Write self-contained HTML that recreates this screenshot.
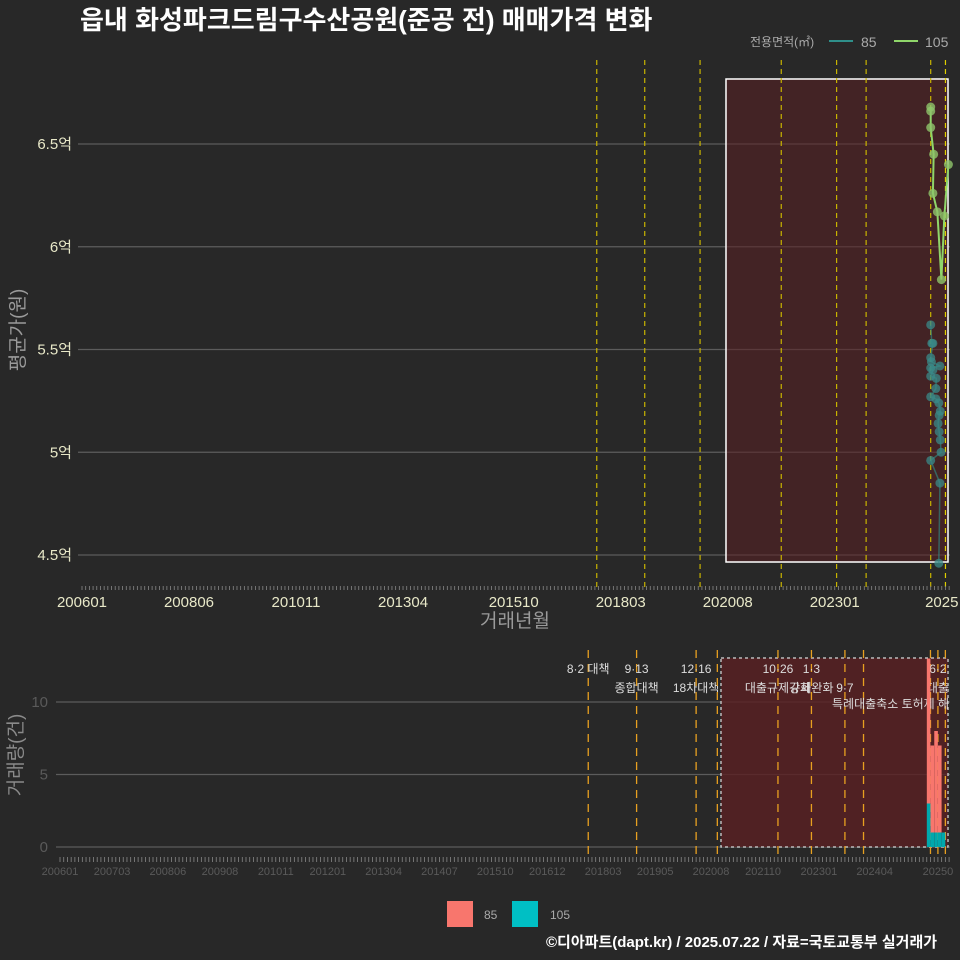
<!DOCTYPE html>
<html><head><meta charset="utf-8"><style>
body{margin:0;background:#282828;}
svg{display:block;font-family:"Liberation Sans","Noto Sans CJK KR",sans-serif;}
</style></head><body>
<svg id="c" width="960" height="960" xmlns="http://www.w3.org/2000/svg">
<rect width="960" height="960" fill="#282828"/>
<text x="80" y="29" font-size="26" font-weight="bold" fill="#ffffff">읍내 화성파크드림구수산공원(준공 전) 매매가격 변화</text>
<g>
<text x="750" y="46" font-size="12" fill="#aaaaaa">전용면적(㎡)</text>
<line x1="829" y1="41" x2="853" y2="41" stroke="#2f8f8a" stroke-width="2"/>
<text x="861" y="47" font-size="14" fill="#aaaaaa">85</text>
<line x1="894" y1="41" x2="918" y2="41" stroke="#8fd66a" stroke-width="2"/>
<text x="925" y="47" font-size="14" fill="#aaaaaa">105</text>
</g>
<g id="top"></g>
<g id="bot"></g>
<text x="546" y="947" font-size="15" font-weight="bold" fill="#ffffff">©디아파트(dapt.kr) / 2025.07.22 / 자료=국토교통부 실거래가</text>
<g>
<rect x="447" y="901" width="26" height="26" fill="#f8766d"/><text x="484" y="919" font-size="12" fill="#aaaaaa">85</text>
<rect x="512" y="901" width="26" height="26" fill="#00bfc4"/><text x="550" y="919" font-size="12" fill="#aaaaaa">105</text>
</g>
</svg>
<script>
const topTickLabels=["200601","200806","201011","201304","201510","201803","202008","202301","2025"];
const topTickMonths=[0,29,58,87,117,146,175,204,233];
const yTicks=[4.5,5,5.5,6,6.5];
const yTickLabels=["4.5억","5억","5.5억","6억","6.5억"];
const policyMonths=[139.5,152.5,167.5,189.5,204.5,212.5,230,234]; 
const s105Months=[230,230,230,230.8,230.6,231.8,232.9,233.7,234.8];
const s105Values=[6.68,6.66,6.58,6.45,6.26,6.17,5.84,6.15,6.40];
const s85Months=[230,230.3,230.6,230,230.2,230,230.6,230,231.5,232.5,231.4,232.2,230,232.6,232.3,232,232.3,232.6,232.8,230,232.5,232.2,231.4];
const s85Values=[5.62,5.53,5.53,5.46,5.44,5.41,5.40,5.37,5.36,5.42,5.26,5.24,5.27,5.20,5.18,5.14,5.10,5.06,5.00,4.96,4.85,4.46,5.31];
const botTickLabels=["200601","200703","200806","200908","201011","201201","201304","201407","201510","201612","201803","201905","202008","202110","202301","202404","20250"];
const botTickMonths=[0,14,29,43,58,72,87,102,117,131,146,160,175,189,204,219,236];
const volTicks=[0,5,10];
const volMonths=[233.5,234.5,235.5,236.5,237.5];
const vol85=[10,6,7,6,0];
const vol105=[3,1,1,1,1];
const bPolicyMonths=[142,155,171,176.7,193,202,211,216,234,236,238];
const bPolicyTop=["8·2 대책","9·13","12·16","","10·26","1·3","","","","6·2",""];
const bPolicyBot=["","종합대책","18차대책","","대출규제강화","규제완화","9·7","","","대출",""];
const NS="http://www.w3.org/2000/svg";
function mk(p,t,a,txt){const e=document.createElementNS(NS,t);for(const k in a)e.setAttribute(k,a[k]);if(txt!==undefined)e.textContent=txt;p.appendChild(e);return e;}
const T=document.getElementById('top'),B=document.getElementById('bot');
const xt=m=>82+m*3.69, yt=v=>555-(v-4.5)*205.5;
const xb=m=>60+m*3.72, yb=v=>847-v*14.5;
yTicks.forEach((v,i)=>{
 let l=mk(T,'line',{x1:78,x2:950,y1:yt(v),y2:yt(v),stroke:'#5c5c5c','stroke-width':1.2});
 
 
 let t=mk(T,'text',{x:72,y:yt(v)+5,'font-size':15,fill:'#e8e8c8','text-anchor':'end'},yTickLabels[i]);
 
 
});
let hr=mk(T,'rect',{x:726,y:79,width:222,height:483,fill:'#5a1f22','fill-opacity':0.55,stroke:'#ffffff','stroke-width':1.5});


policyMonths.forEach((m,i)=>{
 let l=mk(T,'line',{x1:xt(m),x2:xt(m),y1:60,y2:588,stroke:i==policyMonths.length-1?'#e0d000':'#c8b400','stroke-width':1.2,'stroke-dasharray':'5,4'});
 
 
});
for(let m=0;m<=235;m++){mk(T,'line',{x1:xt(m),x2:xt(m),y1:586,y2:590,stroke:'#888','stroke-width':0.8});}
topTickLabels.forEach((s,i)=>{
 let t=mk(T,'text',{x:xt(topTickMonths[i]),y:607,'font-size':15,fill:'#e8e8c8','text-anchor':'middle'},s);
 
 
});
let xa=mk(T,'text',{x:515,y:627,'font-size':19,fill:'#9a9a9a','text-anchor':'middle'},'거래년월');


let ya=mk(T,'text',{x:24,y:330,'font-size':19,fill:'#9a9a9a','text-anchor':'middle',transform:'rotate(-90 24 330)'},'평균가(원)');


let ord=s85Months.map((m,i)=>i).sort((a,b)=>s85Values[b]-s85Values[a]);
let p85=mk(T,'polyline',{points:ord.map(i=>xt(s85Months[i])+','+yt(s85Values[i])).join(' '),fill:'none',stroke:'#2f8f8a','stroke-width':1.5,'stroke-opacity':0.6});


s85Months.forEach((m,i)=>{let c=mk(T,'circle',{cx:xt(m),cy:yt(s85Values[i]),r:4.5,fill:'#3a8a88','fill-opacity':0.75});
 
 });
let p105=mk(T,'polyline',{points:s105Months.map((m,i)=>xt(m)+','+yt(s105Values[i])).join(' '),fill:'none',stroke:'#8fd66a','stroke-width':2});


s105Months.forEach((m,i)=>{let c=mk(T,'circle',{cx:xt(m),cy:yt(s105Values[i]),r:4.5,fill:'#8fc46a','fill-opacity':0.8});
 
 });
volTicks.forEach(v=>{
 let l=mk(B,'line',{x1:56,x2:950,y1:yb(v),y2:yb(v),stroke:'#5c5c5c','stroke-width':1.2});
 
 
 let t=mk(B,'text',{x:48,y:yb(v)+5,'font-size':15,fill:'#5a5a5a','text-anchor':'end'},String(v));
 
 
});
let br=mk(B,'rect',{x:721,y:658,width:227,height:189,fill:'#5a1f22','fill-opacity':0.8,stroke:'#bbbbbb','stroke-width':1.5,'stroke-dasharray':'3,3'});


bPolicyMonths.forEach((m,i)=>{
 let l=mk(B,'line',{x1:xb(m),x2:xb(m),y1:650,y2:858,stroke:'#e8a020','stroke-width':1.3,'stroke-dasharray':'8,6'});
 
 
 if(bPolicyTop[i]){let t=mk(B,'text',{x:xb(m),y:673,'font-size':12,fill:'#dddddd','text-anchor':'middle'},bPolicyTop[i]);
  
  }
 if(bPolicyBot[i]){let t=mk(B,'text',{x:xb(m),y:692,'font-size':12,fill:'#dddddd','text-anchor':'middle'},bPolicyBot[i]);
  
  }
});
let t2=mk(B,'text',{x:832,y:708,'font-size':12,fill:'#dddddd','text-anchor':'start'},'특례대출축소 토허제 해');


volMonths.forEach((m,i)=>{
 let r1=mk(B,'rect',{x:xb(m)-1.8,y:yb(vol105[i]),width:3.6,height:vol105[i]*14.5,fill:'#00a8ac'});
 
 
 let r2=mk(B,'rect',{x:xb(m)-1.8,y:yb(vol105[i]+vol85[i]),width:3.6,height:vol85[i]*14.5,fill:'#f8766d'});
 
 
});
for(let m=0;m<=239;m++){mk(B,'line',{x1:xb(m),x2:xb(m),y1:857,y2:862,stroke:'#888','stroke-width':0.8});}
botTickLabels.forEach((s,i)=>{
 let t=mk(B,'text',{x:xb(botTickMonths[i]),y:875,'font-size':11,fill:'#5a5a5a','text-anchor':'middle'},s);
 
 
});
let yb2=mk(B,'text',{x:22,y:755,'font-size':19,fill:'#8a8a8a','text-anchor':'middle',transform:'rotate(-90 22 755)'},'거래량(건)');


</script>
</body></html>
